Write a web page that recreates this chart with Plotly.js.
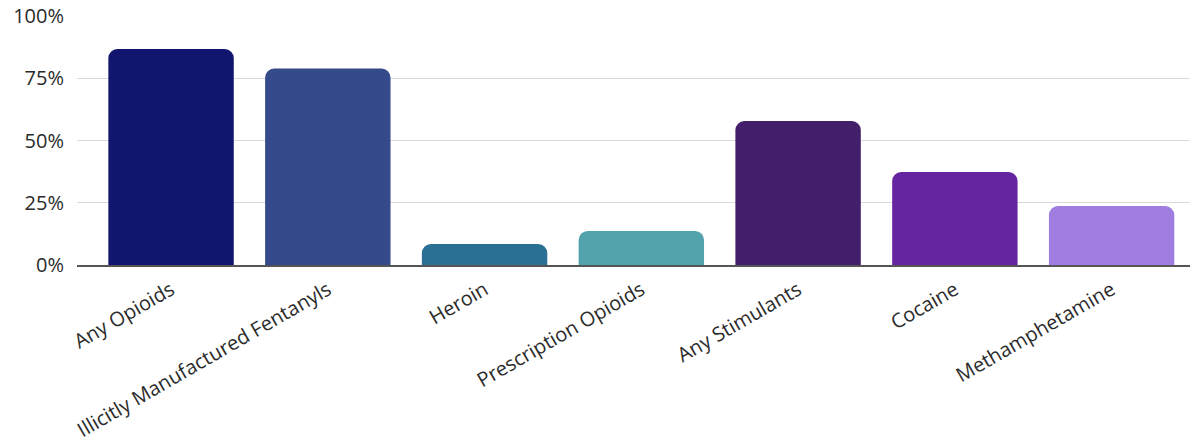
<!DOCTYPE html>
<html>
<head>
<meta charset="utf-8">
<script src="https://cdn.plot.ly/plotly-3.0.1.min.js"></script>
<style>
  html, body { margin: 0; padding: 0; background: #ffffff; }
  #chart { width: 1194px; height: 446px; }
</style>
</head>
<body>
<div id="chart"></div>
<script>
// Share of overdose deaths involving each drug (percent)
const categories = [
  "Any Opioids",
  "Illicitly Manufactured Fentanyls",
  "Heroin",
  "Prescription Opioids",
  "Any Stimulants",
  "Cocaine",
  "Methamphetamine"
];
const percentValues = [86.7, 78.9, 8.4, 13.7, 57.8, 37.3, 23.7];
const barColors = ["#12156e", "#344a8a", "#2a7095", "#52a3ab", "#431f6a", "#6625a0", "#a07de0"];
const yTickValues = [0, 25, 50, 75, 100];
const yTickLabels = ["0%", "25%", "50%", "75%", "100%"];

const trace = {
  type: "bar",
  x: categories,
  y: percentValues,
  marker: { color: barColors, cornerradius: 9, line: { width: 0 } },
  hoverinfo: "x+y"
};

const layout = {
  width: 1194,
  height: 446,
  margin: { l: 77, r: 4, t: 16, b: 181 },
  paper_bgcolor: "#ffffff",
  plot_bgcolor: "#ffffff",
  showlegend: false,
  bargap: 0.2,
  font: { family: "Open Sans, sans-serif", color: "#333333" },
  xaxis: {
    type: "category",
    range: [-0.6, 6.5],
    tickangle: -30,
    tickfont: { size: 20, color: "#2b2b2b" },
    showgrid: false,
    showline: true,
    linecolor: "#555555",
    linewidth: 1.5,
    ticks: "",
    zeroline: false,
    ticklabelstandoff: 4
  },
  yaxis: {
    range: [0, 100],
    tickvals: yTickValues,
    ticktext: yTickLabels,
    tickfont: { size: 20, color: "#2b2b2b" },
    showgrid: true,
    gridcolor: "#d9d9d9",
    gridwidth: 1,
    zeroline: false,
    showline: false,
    ticks: "",
    ticklabelstandoff: 12
  }
};

Plotly.newPlot("chart", [trace], layout, { displayModeBar: false, staticPlot: true });
</script>
</body>
</html>
